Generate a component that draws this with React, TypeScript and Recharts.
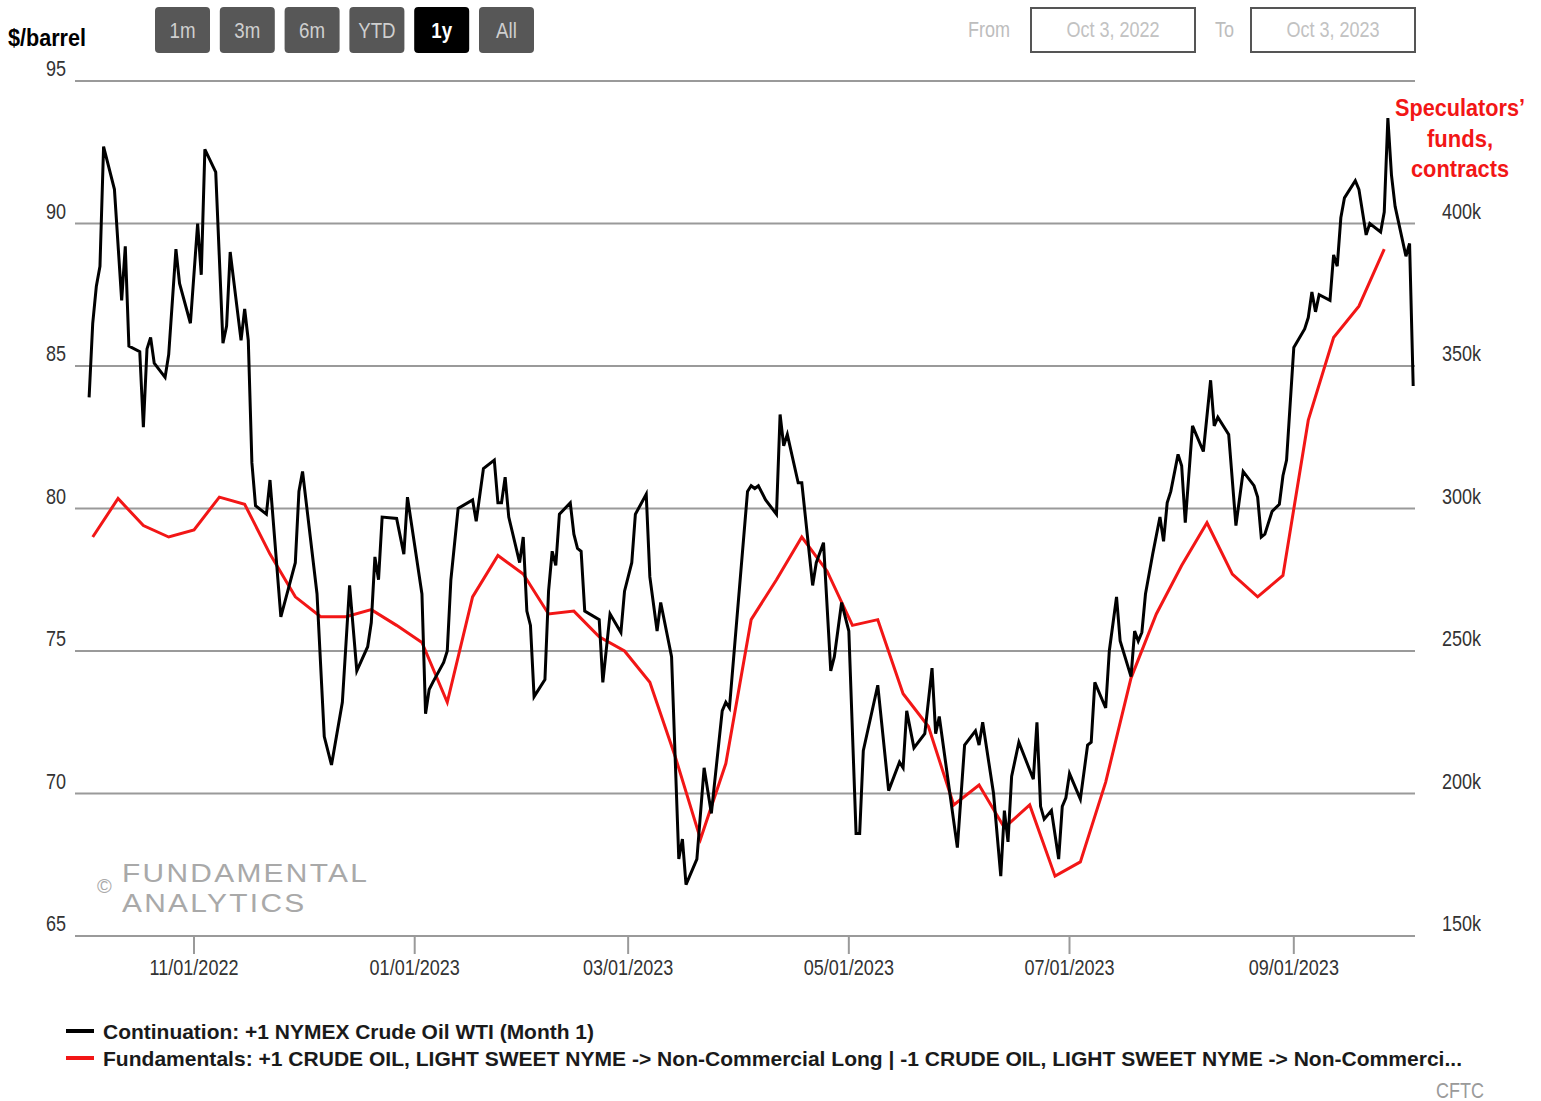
import { LineChart, Line, XAxis, YAxis, CartesianGrid } from "recharts"

// days counted from Oct 3, 2022
const oilDays = [
  0, 1, 2, 3, 4, 7, 9, 10, 11, 14, 15, 16, 17, 18, 21, 22, 24, 25, 28, 30, 31, 32, 35, 37, 38, 39,
  42, 43, 44, 45, 46, 49, 50, 53, 57, 58, 59, 63, 65, 67, 70, 72, 74, 77, 78, 79, 80, 81, 85, 87,
  88, 92, 93, 94, 95, 98, 99, 100, 102, 106, 107, 109, 112, 113, 114, 115, 116, 119, 120, 121, 122,
  123, 126, 127, 128, 129, 130, 133, 134, 135, 136, 137, 141, 142, 144, 147, 148, 150, 151, 154,
  155, 157, 158, 161, 163, 164, 165, 168, 170, 172, 175, 176, 177, 182, 183, 184, 185, 187, 190,
  191, 192, 193, 196, 197, 200, 201, 203, 205, 206, 208, 210, 212, 213, 214, 218, 221, 224, 225,
  226, 228, 231, 233, 234, 235, 240, 242, 245, 246, 247, 250, 252, 253, 254, 255, 257, 261, 262,
  263, 264, 266, 268, 269, 270, 271, 274, 276, 277, 278, 281, 282, 284, 285, 288, 289, 290, 291,
  292, 294, 296, 297, 298, 299, 301, 302, 303, 305, 308, 310, 311, 312, 315, 317, 319, 322, 323,
  324, 325, 327, 329, 330, 331, 333, 336, 337, 338, 339, 340, 343, 344, 345, 346, 347, 350, 351,
  353, 354, 357, 358, 359, 360, 361, 364, 365, 366,
]

const oilPrices = [
  83.9, 86.5, 87.8, 88.5, 92.7, 91.2, 87.3, 89.2, 85.7, 85.5, 82.85, 85.6, 86.0, 85.1, 84.6, 85.4,
  89.1, 87.9, 86.5, 90.0, 88.2, 92.6, 91.8, 85.8, 86.4, 89.0, 85.9, 87.0, 85.9, 81.6, 80.1, 79.8,
  81.0, 76.2, 78.1, 80.6, 81.3, 77.0, 72.0, 71.0, 73.2, 77.3, 74.3, 75.15, 76.0, 78.3, 77.5, 79.7,
  79.65, 78.4, 80.4, 77.0, 72.8, 73.65, 73.9, 74.6, 75.0, 77.5, 80.0, 80.3, 79.55, 81.4, 81.7, 80.2,
  80.2, 81.1, 79.7, 78.1, 79.0, 76.4, 75.9, 73.4, 74.0, 77.1, 78.5, 78.0, 79.8, 80.2, 79.1, 78.6,
  78.5, 76.4, 76.1, 73.9, 76.3, 75.65, 77.1, 78.1, 79.8, 80.5, 77.6, 75.7, 76.7, 74.8, 67.7, 68.4,
  66.8, 67.7, 70.9, 69.3, 72.9, 73.2, 73.0, 80.6, 80.8, 80.7, 80.8, 80.3, 79.8, 83.3, 82.2, 82.6,
  80.9, 80.9, 77.3, 78.1, 78.8, 74.3, 74.8, 76.7, 75.7, 68.6, 68.6, 71.5, 73.8, 70.1, 71.1, 70.9,
  72.9, 71.6, 72.1, 74.4, 72.1, 72.7, 68.1, 71.7, 72.2, 71.7, 72.5, 70.0, 67.1, 69.4, 68.3, 70.6,
  71.8, 70.5, 72.5, 69.55, 69.1, 69.4, 67.7, 69.55, 69.85, 70.7, 69.8, 71.7, 71.8, 73.9, 73.0, 75.0,
  76.9, 75.35, 74.1, 75.7, 75.35, 75.65, 77.0, 78.4, 79.7, 78.85, 80.2, 80.6, 81.9, 81.5, 79.5,
  82.9, 82.0, 84.5, 82.9, 83.2, 82.6, 79.4, 81.3, 80.8, 80.4, 79.0, 79.1, 79.9, 80.15, 81.15, 81.7,
  85.65, 86.3, 86.7, 87.6, 86.9, 87.5, 87.3, 88.9, 88.5, 90.2, 90.9, 91.5, 91.2, 89.6, 90.0, 89.7,
  90.4, 93.7, 91.7, 90.6, 88.85, 89.3, 84.3,
]

// weekly CFTC report days (Tuesdays)
const cftcDays = [
  1, 8, 15, 22, 29, 36, 43, 50, 57, 64, 71, 78, 85, 92, 99, 106, 113, 120, 127, 134, 141, 148, 155,
  162, 169, 176, 183, 190, 197, 204, 211, 218, 225, 232, 239, 246, 253, 260, 267, 274, 281, 288,
  295, 302, 309, 316, 323, 330, 337, 344, 351, 358,
]

const cftcContracts = [
  290000, 303500, 294000, 290000, 292500, 304000, 301500, 284000, 269000, 262000, 262000, 264500,
  259000, 253000, 232000, 269000, 283500, 277000, 263000, 264000, 255000, 250000, 239000, 213000,
  184000, 210500, 261000, 275000, 290000, 278000, 259000, 261000, 235000, 223500, 196000, 203000,
  188000, 196000, 171000, 176000, 204000, 240500, 263000, 280000, 295000, 277000, 269000, 276500,
  331000, 360000, 371000, 391000,
]

const xTickDays = [29, 90, 149, 210, 271, 333]
const xTickLabels = ["11/01/2022", "01/01/2023", "03/01/2023", "05/01/2023", "07/01/2023", "09/01/2023"]
const priceTicks = [65, 70, 75, 80, 85, 90, 95]
const contractTicks = [150000, 200000, 250000, 300000, 350000, 400000]
const rangeButtons = ["1m", "3m", "6m", "YTD", "1y", "All"]
const activeRange = "1y"

const oilLabel = "Continuation: +1 NYMEX Crude Oil WTI (Month 1)"
const cftcLabel =
  "Fundamentals: +1 CRUDE OIL, LIGHT SWEET NYME -> Non-Commercial Long | -1 CRUDE OIL, LIGHT SWEET NYME -> Non-Commerci..."

const W = 1541
const H = 1101
const PLOT_LEFT = 75
const PLOT_RIGHT = 1415
const PLOT_TOP = 81
const PLOT_BOTTOM = 936
const FONT = "'Liberation Sans', Arial, sans-serif"
const GRID = "#9a9a9a"
const RED = "#f21616"

// merge both series on the day axis
const rows = new Map<number, { day: number; oil?: number; cftc?: number }>()
oilDays.forEach((d, i) => rows.set(d, { ...(rows.get(d) || { day: d }), oil: oilPrices[i] }))
cftcDays.forEach((d, i) => rows.set(d, { ...(rows.get(d) || { day: d }), cftc: cftcContracts[i] }))
const data = Array.from(rows.values()).sort((a, b) => a.day - b.day)

function NarrowText({
  x,
  y,
  anchor = "start",
  size = 22,
  sx = 0.82,
  fill = "#333",
  weight = "normal",
  spacing = 0,
  children,
}: any) {
  return (
    <text
      transform={`translate(${x},${y}) scale(${sx},1)`}
      textAnchor={anchor}
      fontSize={size}
      fill={fill}
      fontWeight={weight}
      fontFamily={FONT}
      letterSpacing={spacing}
    >
      {children}
    </text>
  )
}

const LeftTick = ({ y, payload }: any) => (
  <NarrowText x={PLOT_LEFT - 9} y={y - 5} anchor="end">
    {payload.value}
  </NarrowText>
)

const RightTick = ({ y, payload }: any) => (
  <NarrowText x={PLOT_RIGHT + 27} y={y - 5}>
    {payload.value / 1000 + "k"}
  </NarrowText>
)

const BottomTick = ({ x, payload }: any) => (
  <NarrowText x={x} y={PLOT_BOTTOM + 39} anchor="middle">
    {xTickLabels[xTickDays.indexOf(payload.value)]}
  </NarrowText>
)

function Overlay() {
  return (
    <svg
      width={W}
      height={H}
      style={{ position: "absolute", left: 0, top: 0, pointerEvents: "none" }}
    >
      <NarrowText x={8} y={46} size={24} sx={0.9} fill="#000" weight="bold">
        $/barrel
      </NarrowText>

      {rangeButtons.map((b, i) => {
        const x = 155 + i * 64.8
        const on = b === activeRange
        return (
          <g key={b}>
            <rect x={x} y={7} width={55} height={46} rx={4} fill={on ? "#000" : "#575757"} />
            <NarrowText
              x={x + 27.5}
              y={38}
              anchor="middle"
              sx={0.85}
              fill={on ? "#fff" : "#cfcfcf"}
              weight={on ? "bold" : "normal"}
            >
              {b}
            </NarrowText>
          </g>
        )
      })}

      <NarrowText x={968} y={37} fill="#bdbdbd">From</NarrowText>
      <rect x={1031} y={8} width={164} height={44} fill="#fff" stroke="#555" strokeWidth={2} />
      <NarrowText x={1113} y={37} anchor="middle" fill="#c2c2c2">Oct 3, 2022</NarrowText>
      <NarrowText x={1215} y={37} fill="#bdbdbd">To</NarrowText>
      <rect x={1251} y={8} width={164} height={44} fill="#fff" stroke="#555" strokeWidth={2} />
      <NarrowText x={1333} y={37} anchor="middle" fill="#c2c2c2">Oct 3, 2023</NarrowText>

      <g fontFamily={FONT} fontWeight="bold" fontSize={24} fill={RED} textAnchor="middle">
        <text x={1460} y={116} textLength={130} lengthAdjust="spacingAndGlyphs">Speculators’</text>
        <text x={1460} y={147} textLength={66} lengthAdjust="spacingAndGlyphs">funds,</text>
        <text x={1460} y={177} textLength={98} lengthAdjust="spacingAndGlyphs">contracts</text>
      </g>

      <NarrowText x={97} y={893} size={20} sx={1} fill="#a9a9a9">©</NarrowText>
      <NarrowText x={122} y={882} size={26} sx={1.15} spacing={2} fill="#a9a9a9">FUNDAMENTAL</NarrowText>
      <NarrowText x={122} y={912} size={26} sx={1.15} spacing={2} fill="#a9a9a9">ANALYTICS</NarrowText>

      <line x1={66} x2={94} y1={1031} y2={1031} stroke="#000" strokeWidth={4} />
      <text x={103} y={1039} fontFamily={FONT} fontSize={21} fontWeight="bold" fill="#1a1a1a"
        textLength={491} lengthAdjust="spacingAndGlyphs">
        {oilLabel}
      </text>
      <line x1={66} x2={94} y1={1058} y2={1058} stroke={RED} strokeWidth={4} />
      <text x={103} y={1066} fontFamily={FONT} fontSize={21} fontWeight="bold" fill="#1a1a1a"
        textLength={1359} lengthAdjust="spacingAndGlyphs">
        {cftcLabel}
      </text>
      <NarrowText x={1484} y={1098} anchor="end" fill="#9a9a9a">CFTC</NarrowText>
    </svg>
  )
}

export default function App() {
  return (
    <div style={{ position: "absolute", left: 0, top: 0, width: W, height: H, background: "#fff" }}>
      <LineChart
        width={W}
        height={H}
        data={data}
        margin={{ top: PLOT_TOP, right: W - PLOT_RIGHT - 100, bottom: H - PLOT_BOTTOM - 60, left: PLOT_LEFT - 60 }}
      >
        <CartesianGrid yAxisId="left" vertical={false} stroke={GRID} strokeWidth={2} />
        <XAxis
          dataKey="day"
          type="number"
          domain={[-3.9, 366.5]}
          allowDataOverflow
          ticks={xTickDays}
          tick={<BottomTick />}
          tickSize={18}
          height={60}
          axisLine={{ stroke: GRID, strokeWidth: 2 }}
          tickLine={{ stroke: GRID, strokeWidth: 2 }}
          interval={0}
        />
        <YAxis
          yAxisId="left"
          orientation="left"
          width={60}
          domain={[65, 95]}
          ticks={priceTicks}
          tick={<LeftTick />}
          axisLine={false}
          tickLine={false}
          allowDataOverflow
          interval={0}
        />
        <YAxis
          yAxisId="right"
          orientation="right"
          width={100}
          domain={[150000, 450000]}
          ticks={contractTicks}
          tick={<RightTick />}
          axisLine={false}
          tickLine={false}
          allowDataOverflow
          interval={0}
        />
        <Line
          yAxisId="right"
          dataKey="cftc"
          type="linear"
          stroke={RED}
          strokeWidth={3}
          dot={false}
          connectNulls
          isAnimationActive={false}
        />
        <Line
          yAxisId="left"
          dataKey="oil"
          type="linear"
          stroke="#000"
          strokeWidth={3}
          dot={false}
          connectNulls
          isAnimationActive={false}
        />
      </LineChart>
      <Overlay />
    </div>
  )
}
